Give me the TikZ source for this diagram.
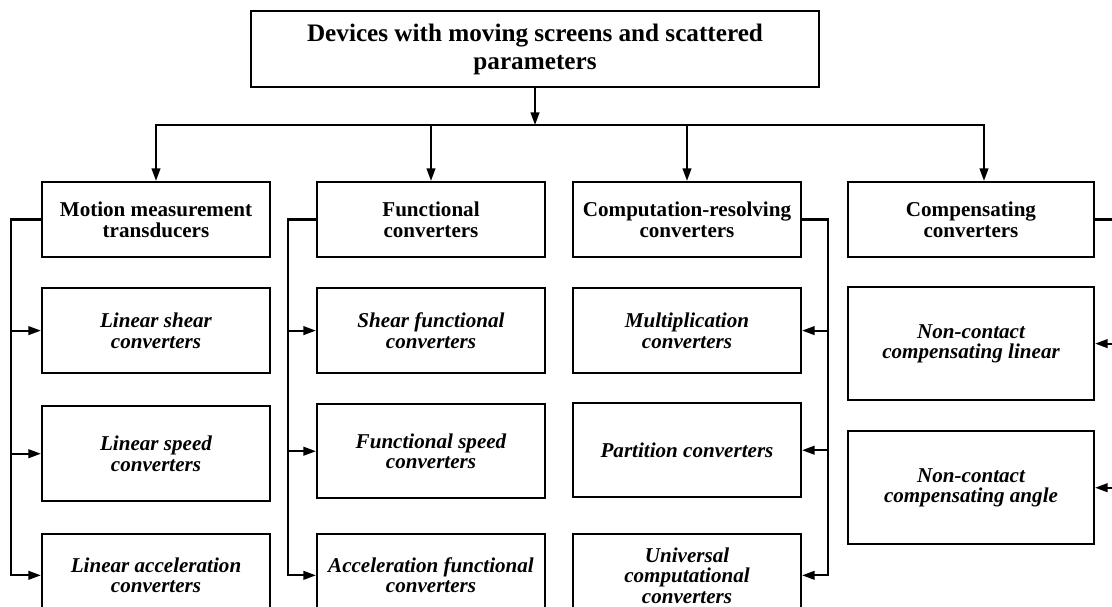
\documentclass[tikz,border=0pt]{standalone}
\usepackage{fontspec}
\setmainfont{Liberation Serif}
\usetikzlibrary{arrows.meta,positioning,calc}
\tikzset{
title/.style={draw,line width=1.8pt,minimum width=17.04cm,minimum height=2.28cm,align=center,font=\fontsize{21.5}{24}\selectfont\bfseries},
group/.style={draw,line width=1.8pt,minimum width=6.84cm,minimum height=2.25cm,align=center,font=\fontsize{18}{18}\selectfont\bfseries},
leaf/.style={draw,line width=1.8pt,minimum width=6.84cm,minimum height=2.55cm,align=center,font=\fontsize{18}{17.5}\selectfont\bfseries\itshape},
flow/.style={-{Triangle[length=3.8mm,width=2.6mm]},line width=1.8pt},
bus/.style={line width=1.8pt}
}
\begin{document}
\begin{tikzpicture}[node distance=0.9cm]
\useasboundingbox (0,0) rectangle (33.36,-18.21);
\clip (0,0) rectangle (33.36,-18.21);
\node[title](devices) at (16.05,-1.47){Devices with moving screens and scattered\\parameters};
\coordinate (split) at (16.05,-3.75);
% group headers
\node[group](motion) at (4.68,-6.585){Motion measurement\\transducers};
\node[group](functional) at (12.93,-6.585){Functional\\converters};
\node[group](computation) at (20.61,-6.585){Computation-resolving\\converters};
\node[group,minimum width=7.38cm](compensating) at (29.13,-6.585){Compensating\\converters};
% motion measurement column
\node[leaf,below=0.87cm of motion](linshear){Linear shear\\converters};
\node[leaf,below=0.93cm of linshear,minimum height=2.85cm](linspeed){Linear speed\\converters};
\node[leaf,below=0.93cm of linspeed,minimum height=2.46cm](linaccel){Linear acceleration\\converters};
% functional column
\node[leaf,below=0.87cm of functional](shearfun){Shear functional\\converters};
\node[leaf,below=0.87cm of shearfun,minimum height=2.82cm](speedfun){Functional speed\\converters};
\node[leaf,below=1.02cm of speedfun,minimum height=2.46cm](accelfun){Acceleration functional\\converters};
% computation column
\node[leaf,below=0.87cm of computation](multiply){Multiplication\\converters};
\node[leaf,below=0.84cm of multiply,minimum height=2.82cm](partition){Partition converters};
\node[leaf,below=1.05cm of partition,minimum height=2.46cm](universal){Universal\\computational\\converters};
% compensating column
\node[leaf,below=0.84cm of compensating,minimum width=7.38cm,minimum height=3.39cm](noncontlin){Non-contact\\compensating linear};
\node[leaf,below=0.87cm of noncontlin,minimum width=7.38cm,minimum height=3.39cm](noncontang){Non-contact\\compensating angle};
% top level
\draw[flow](devices)--(split);
\draw[flow](split)-|(motion);
\draw[flow](split)-|(functional);
\draw[flow](split)-|(computation);
\draw[flow](split)-|([xshift=0.39cm]compensating.north);
% side buses
\coordinate (busa) at ($(motion.west)+(-0.9,0)$);
\coordinate (busb) at ($(functional.west)+(-0.84,0)$);
\coordinate (busc) at ($(computation.east)+(0.78,0)$);
\coordinate (busd) at ($(compensating.east)+(0.93,0)$);
\draw[flow](motion.west)--(busa)|-(linaccel);
\draw[flow](busa|-linshear)--(linshear);
\draw[flow](busa|-linspeed)--(linspeed);
\draw[flow](functional.west)--(busb)|-(accelfun);
\draw[flow](busb|-shearfun)--(shearfun);
\draw[flow](busb|-speedfun)--(speedfun);
\draw[flow](computation.east)--(busc)|-(universal);
\draw[flow](busc|-multiply)--(multiply);
\draw[flow](busc|-partition)--(partition);
\draw[flow](compensating.east)--(busd)|-(noncontang);
\draw[flow](busd|-noncontlin)--(noncontlin);
\end{tikzpicture}
\end{document}
